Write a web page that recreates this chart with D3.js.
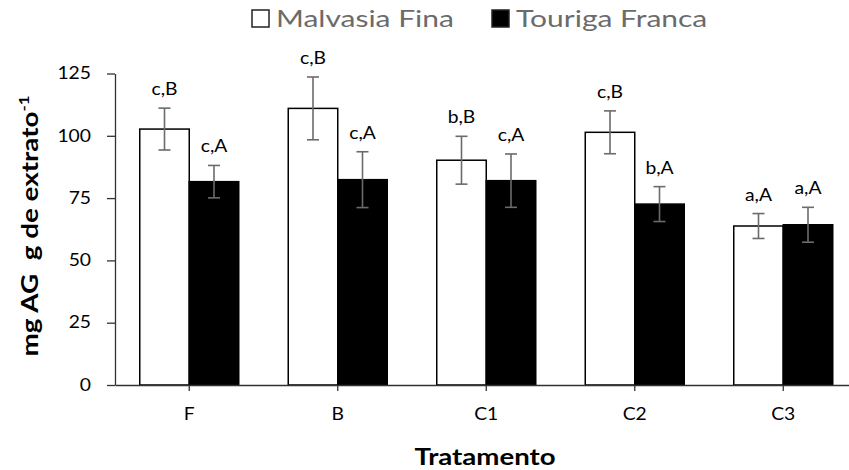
<!DOCTYPE html>
<html>
<head>
<meta charset="utf-8">
<script src="https://cdn.jsdelivr.net/npm/d3@7"></script>
<style>
  body { margin: 0; background: #fff; }
  text { font-family: Lato, "Open Sans", sans-serif; }
</style>
</head>
<body>
<svg width="849" height="470"></svg>
<script>
// data
const treatments = ["F", "B", "C1", "C2", "C3"];
const seriesNames = ["Malvasia Fina", "Touriga Franca"];
const malvasia = [102.7, 111.0, 90.2, 101.4, 63.8];
const malvasiaErr = [8.4, 12.6, 9.6, 8.6, 5.0];
const malvasiaLabels = ["c,B", "c,B", "b,B", "c,B", "a,A"];
const touriga = [81.6, 82.4, 82.0, 72.6, 64.3];
const tourigaErr = [6.5, 11.2, 10.7, 7.0, 7.0];
const tourigaLabels = ["c,A", "c,A", "c,A", "b,A", "a,A"];
const yTicks = [0, 25, 50, 75, 100, 125];

const svg = d3.select("svg");

// the original text is a bit wider than Lato, so stretch it sideways
function stretch(sel, s) {
  sel.each(function () {
    const t = d3.select(this);
    const tx = +t.attr("x") || 0, ty = +t.attr("y") || 0;
    t.attr("x", 0).attr("y", 0).attr("transform", `translate(${tx},${ty}) scale(${s},1)`);
  });
}

const x0 = d3.scaleBand().domain(treatments).range([115, 857.5]);
const x1 = d3.scaleBand().domain(seriesNames).range([0, x0.bandwidth()]).paddingOuter(0.5);
const y = d3.scaleLinear().domain([0, 125]).range([385, 73.5]);

const rows = [];
treatments.forEach((t, i) => {
  rows.push({ t, s: seriesNames[0], v: malvasia[i], e: malvasiaErr[i], lab: malvasiaLabels[i] });
  rows.push({ t, s: seriesNames[1], v: touriga[i], e: tourigaErr[i], lab: tourigaLabels[i] });
});
const fill = { "Malvasia Fina": "#fff", "Touriga Franca": "#000" };
const cx = d => x0(d.t) + x1(d.s) + x1.bandwidth() / 2;

// bars
svg.append("g")
  .selectAll("rect")
  .data(rows)
  .join("rect")
  .attr("x", d => x0(d.t) + x1(d.s))
  .attr("y", d => y(d.v))
  .attr("width", x1.bandwidth())
  .attr("height", d => y(0) - y(d.v))
  .attr("fill", d => fill[d.s])
  .attr("stroke", "#000")
  .attr("stroke-width", 1.5);

// error bars
const err = svg.append("g").attr("stroke", "#6b6b6b").attr("stroke-width", 1.6);
err.selectAll(".v").data(rows).join("line")
  .attr("x1", cx).attr("x2", cx)
  .attr("y1", d => y(d.v + d.e)).attr("y2", d => y(d.v - d.e));
err.selectAll(".top").data(rows).join("line")
  .attr("x1", d => cx(d) - 6).attr("x2", d => cx(d) + 6)
  .attr("y1", d => y(d.v + d.e)).attr("y2", d => y(d.v + d.e));
err.selectAll(".bot").data(rows).join("line")
  .attr("x1", d => cx(d) - 6).attr("x2", d => cx(d) + 6)
  .attr("y1", d => y(d.v - d.e)).attr("y2", d => y(d.v - d.e));

// letters above the bars
const labs = svg.append("g")
  .selectAll("text")
  .data(rows)
  .join("text")
  .attr("x", cx)
  .attr("y", d => y(d.v + d.e) - 13)
  .attr("text-anchor", "middle")
  .attr("font-size", 16.5)
  .attr("fill", "#000")
  .text(d => d.lab);
stretch(labs, 1.17);

// axes
const yAxis = svg.append("g")
  .attr("transform", "translate(115,0)")
  .call(d3.axisLeft(y).tickValues(yTicks).tickSize(8).tickPadding(16).tickSizeOuter(0));
yAxis.selectAll("text").attr("font-size", 16.5).attr("font-family", "Lato").attr("fill", "#000");
stretch(yAxis.selectAll("text"), 1.17);

const xAxis = svg.append("g")
  .attr("transform", "translate(0,385)")
  .call(d3.axisBottom(x0).tickSize(6).tickPadding(17).tickSizeOuter(0));
xAxis.selectAll("text").attr("font-size", 16.5).attr("font-family", "Lato").attr("fill", "#000");
stretch(xAxis.selectAll("text"), 1.17);

[yAxis, xAxis].forEach(a => {
  a.selectAll("path, line").attr("stroke", "#333").attr("stroke-width", 1.3);
});

// titles
const xt = svg.append("text")
  .attr("x", 485).attr("y", 465)
  .attr("text-anchor", "middle")
  .attr("font-size", 23).attr("font-weight", "bold")
  .text("Tratamento");
stretch(xt, 1.2);

const yt = svg.append("text")
  .attr("transform", "translate(38,226) rotate(-90) scale(1.21,1)")
  .attr("text-anchor", "middle")
  .attr("font-size", 23).attr("font-weight", "bold");
yt.append("tspan").text("mg AG\u00a0\u00a0g de extrato");
yt.append("tspan").attr("font-size", 14).attr("dy", -9).text("-1");

// legend
const leg = svg.append("g").attr("transform", "translate(252,10)");
const li = leg.selectAll("g").data(seriesNames).join("g")
  .attr("transform", (d, i) => `translate(${i * 240},0)`);
li.append("rect").attr("width", 17).attr("height", 17)
  .attr("fill", d => fill[d]).attr("stroke", "#222").attr("stroke-width", 1.5);
const legText = li.append("text").attr("x", 24).attr("y", 17.3)
  .attr("font-size", 24).attr("fill", "#6b6b6b")
  .text(d => d);
stretch(legText, 1.25);
</script>
</body>
</html>
